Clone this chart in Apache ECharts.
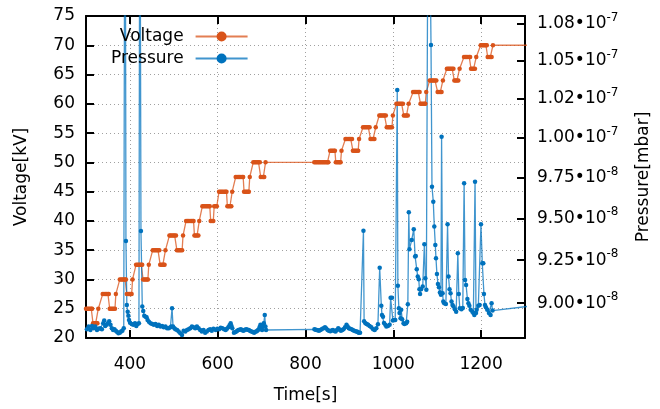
<!DOCTYPE html>
<html>
<head>
<meta charset="utf-8">
<script src="https://cdn.jsdelivr.net/npm/echarts@6/dist/echarts.min.js"></script>
<style>
html,body{margin:0;padding:0;background:#fff;}
#chart{width:660px;height:409px;}
</style>
</head>
<body>
<div id="chart"></div>
<script>
// ---- data ----
// Voltage [kV] vs time [s]
const voltageData = [
[300,25],[303,25],[306,25],[309,25],[312,25],[314,25],
[316,22.5],[319,22.5],[322,22.5],[324,22.5],[326,22.5],
[328,25],
[338,27.5],[341,27.5],[344,27.5],[347,27.5],[350,27.5],[352,27.5],
[354,25],[357,25],[360,25],[363,25],[366,25],
[368,27.5],
[377,30],[380,30],[383,30],[386,30],[389,30],[391,30],
[393,27.5],[396,27.5],[399,27.5],[402,27.5],[404,27.5],
[406,30],
[414,32.5],[417,32.5],[420,32.5],[423,32.5],[426,32.5],[428,32.5],
[430,30],[433,30],[436,30],[439,30],[441,30],
[443,32.5],
[452,35],[455,35],[458,35],[461,35],[464,35],[467,35],
[469,32.5],[472,32.5],[475,32.5],[477,32.5],[479,32.5],
[481,35],
[490,37.5],[493,37.5],[496,37.5],[499,37.5],[502,37.5],[505,37.5],
[507,35],[510,35],[513,35],[516,35],[519,35],
[521,37.5],
[528,40],[531,40],[534,40],[537,40],[540,40],[543,40],[545,40],
[547,37.5],[550,37.5],[553,37.5],[556,37.5],
[558,40],
[565,42.5],[568,42.5],[571,42.5],[574,42.5],[577,42.5],[580,42.5],[582,42.5],
[584,40],[587,40],[590,40],
[592,42.5],[595,42.5],[598,42.5],
[603,45],[606,45],[609,45],[612,45],[615,45],[618,45],[620,45],
[622,42.5],[625,42.5],[628,42.5],[631,42.5],
[633,45],
[641,47.5],[644,47.5],[647,47.5],[650,47.5],[653,47.5],[656,47.5],[658,47.5],
[660,45],[663,45],[666,45],[669,45],[671,45],
[673,47.5],
[681,50],[684,50],[687,50],[690,50],[693,50],[696,50],
[698,47.5],[701,47.5],[704,47.5],[706,47.5],
[709,50],
[820,50],[823,50],[826,50],[829,50],[832,50],[835,50],[838,50],[841,50],[844,50],[847,50],[850,50],[852,50],
[856,52],[859,52],[862,52],[865,52],[867,52],
[869,50],[872,50],[875,50],[878,50],[880,50],
[882,52],
[891,54],[894,54],[897,54],[900,54],[903,54],[906,54],
[908,52],[911,52],[914,52],[917,52],[920,52],
[922,54],
[931,56],[934,56],[937,56],[940,56],[943,56],[946,56],
[948,54],[951,54],[954,54],[957,54],
[960,56],
[968,58],[971,58],[974,58],[977,58],[980,58],[983,58],
[985,56],[988,56],[991,56],[994,56],[997,56],
[999,58],
[1007,60],[1010,60],[1013,60],[1016,60],[1019,60],[1022,60],
[1024,58],[1027,58],[1030,58],[1033,58],
[1035,60],
[1045,62],[1048,62],[1051,62],[1054,62],[1057,62],[1060,62],
[1062,60],[1065,60],[1068,60],[1071,60],[1073,60],
[1075,62],
[1083,64],[1086,64],[1089,64],[1092,64],[1095,64],[1098,64],
[1101,62],[1104,62],[1107,62],[1110,62],
[1113,64],
[1122,66],[1125,66],[1128,66],[1131,66],[1134,66],[1137,66],
[1139,64],[1142,64],[1145,64],[1148,64],
[1151,66],
[1161,68],[1164,68],[1167,68],[1170,68],[1173,68],[1175,68],
[1177,66],[1180,66],[1183,66],[1186,66],
[1189,68],
[1199,70],[1202,70],[1205,70],[1208,70],[1211,70],[1213,70],
[1215,68],[1218,68],[1221,68],[1224,68],
[1227,70],
[1310,70]
];

// Pressure vs time [s]; pressure in units of 1e-8 mbar
const pressureData = [
[302,8.852],[306,8.867],[310,8.848],[313.6,8.871],[317.3,8.858],[321,8.867],[325,8.848],[328.6,8.855],
[332.4,8.858],[336.2,8.852],[339.2,8.886],[341.5,8.901],[343.7,8.871],[346.7,8.877],[349.8,8.886],[352.8,8.897],
[355.8,8.877],[358.8,8.858],[361.8,8.848],[364.8,8.852],[367.9,8.844],[370.9,8.837],[373.9,8.829],[376.9,8.833],
[379.9,8.839],[382.9,8.844],[386,8.858],[389,13.0],[391,9.364],[393,8.99],[395,8.952],[396.5,8.928],[398,8.905],
[400.3,8.889],[404,8.882],[407.8,8.877],[411.6,8.886],[414.6,8.871],[417.6,8.882],[420.6,8.886],[422.7,12.5],
[425.2,9.424],[428.2,8.981],[430.4,8.956],[432.7,8.928],[435.7,8.923],[438,8.920],[440.2,8.905],[443.3,8.895],
[447,8.886],[450.8,8.882],[454.6,8.877],[458.3,8.882],[462.1,8.871],[465.9,8.877],[469.7,8.867],[473.4,8.871],
[477.2,8.864],[481,8.867],[484.7,8.858],[488.5,8.858],[492.3,8.864],[494.5,8.867],[496,8.971],[498.3,8.867],
[501.3,8.858],[503.6,8.852],[507.4,8.848],[511.1,8.839],[514.9,8.829],[518.7,8.820],[522.4,8.844],[526.2,8.839],
[530,8.848],[533.7,8.852],[537.5,8.858],[541.3,8.867],[545,8.864],[548.8,8.858],[552.6,8.867],[556.4,8.858],
[560.1,8.848],[563.9,8.839],[567.7,8.848],[571.4,8.833],[575.2,8.839],[579,8.848],[582.8,8.852],[586.5,8.844],
[590.3,8.855],[595.6,8.848],[599,8.855],[603.1,8.852],[606.8,8.86],[610.7,8.858],[614.5,8.852],[618.2,8.848],
[621,8.855],[624.2,8.864],[627,8.875],[629.5,8.886],[631.5,8.87],[633.3,8.858],[637,8.833],[640.8,8.837],
[643.9,8.842],[646.9,8.848],[649.9,8.85],[652.9,8.852],[655.9,8.846],[658.9,8.844],[662,8.85],[665,8.852],
[668,8.849],[671,8.848],[674,8.843],[677,8.839],[680,8.836],[683,8.833],[686,8.838],[689,8.841],[691.3,8.846],
[693.6,8.852],[695.5,8.865],[697.4,8.877],[699.3,8.862],[701.1,8.848],[703,8.866],[704.9,8.886],[707.2,8.933],
[708.7,8.867],[710.2,8.848],
[820.3,8.852],[823,8.85],[825.6,8.848],[828.2,8.846],[830.8,8.844],[833.8,8.848],[836.9,8.852],[840.6,8.858],
[844.4,8.864],[847.4,8.856],[850.4,8.848],[853.4,8.844],[856.5,8.841],[859.5,8.845],[862.5,8.848],[865.5,8.843],
[868.5,8.839],[871.5,8.848],[874.6,8.858],[877.6,8.851],[880.6,8.844],[883.6,8.848],[886.6,8.852],[890,8.864],
[893.4,8.877],[896,8.867],[898.7,8.858],[901.7,8.855],[904.7,8.852],[907.7,8.848],[910.8,8.844],[913.8,8.841],
[916.8,8.839],[919,8.836],[921.3,8.833],[924.3,8.833],[932,9.425],[933.5,8.898],[936.5,8.886],[939.5,8.882],
[942.5,8.877],[946,8.871],[950,8.864],[954,8.852],[957.6,8.848],[961.3,8.858],[965,8.88],[969,9.206],
[972.7,8.985],[974.2,8.933],[976.5,8.923],[978.8,8.888],[981.8,8.877],[984.1,8.867],[987.8,8.871],[991.6,8.877],
[993.9,9.031],[996.9,9.031],[999.1,8.901],[1001.4,8.905],[1004.4,8.905],[1009,10.308],[1010.4,9.101],[1012.7,8.971],
[1014.2,8.944],[1016.5,8.915],[1018,8.962],[1020.2,8.909],[1023.3,8.886],[1025.5,8.882],[1029.3,8.886],[1031.6,8.895],
[1033.1,8.994],[1035.3,9.537],[1036.8,9.315],[1042,9.37],[1046.6,9.434],[1049.7,9.271],[1051.2,9.275],[1053.4,9.197],
[1055.7,9.154],[1058,9.139],[1059.5,9.081],[1061,9.053],[1063.2,9.081],[1067,9.096],[1070.8,9.344],[1073,9.144],
[1075.3,9.077],[1080,12.5],[1085.9,10.607],[1088.1,9.693],[1091.1,9.601],[1093.4,9.45],[1095.7,9.34],[1097.2,9.261],
[1099.4,9.169],[1101.7,9.111],[1104,9.092],[1106.2,9.061],[1108.5,9.048],[1110,10.006],[1112.3,9.057],[1113.8,9.01],
[1116,9.0],[1119.8,8.996],[1123.6,9.464],[1125.8,9.154],[1128.1,9.081],[1130.4,9.057],[1132.6,9.01],[1134.9,8.99],
[1137.1,8.981],[1140.2,8.966],[1143.2,8.952],[1147,9.291],[1149.2,9.053],[1151.5,8.971],[1155.2,8.966],[1158.3,8.973],
[1161.3,9.714],[1163.5,9.134],[1165.8,9.105],[1168.8,9.024],[1171.1,9.0],[1173.3,8.985],[1176.3,8.962],[1180.1,8.952],
[1182.4,8.944],[1184.6,8.933],[1186.2,9.724],[1188.4,8.944],[1189.9,8.962],[1193.7,8.985],[1196.7,8.99],[1199.7,9.464],
[1202.7,9.232],[1205,9.232],[1206.5,9.053],[1208.8,8.99],[1211,8.977],[1214,8.962],[1217.8,8.944],[1221.6,8.933],
[1223.9,9.0],[1226.1,8.958],[1310,8.983]
];

const timeTicks = [400, 600, 800, 1000, 1200];
const pressureTickValues = [9, 9.25, 9.5, 9.75, 10, 10.25, 10.5, 10.75]; // 1e-8 mbar
const pressureTickMantissa = ['9.00', '9.25', '9.50', '9.75', '1.00', '1.02', '1.05', '1.08'];
const pressureTickExponent = ['-8', '-8', '-8', '-8', '-7', '-7', '-7', '-7'];

// ---- chart ----
const FONT = 'DejaVu Sans';
const BLACK = '#000000';
const ORANGE = '#D95319';
const BLUE = '#0072BD';
const gridLine = { show: true, lineStyle: { color: '#a0a0a0', type: [1, 3], width: 1 } };

const chart = echarts.init(document.getElementById('chart'), null, { renderer: 'canvas' });
chart.setOption({
  animation: false,
  backgroundColor: '#ffffff',
  grid: { left: 86, right: 132, top: 16, bottom: 71, containLabel: false },
  legend: {
    orient: 'vertical', align: 'right', left: 111, top: 28, padding: 0,
    itemWidth: 52, itemHeight: 12.5, itemGap: 5,
    textStyle: { fontSize: 17, fontFamily: FONT, color: BLACK, padding: [0, 7, 0, 0] },
    data: ['Voltage', 'Pressure']
  },
  xAxis: [
    {
      type: 'value', min: 300, max: 1300, position: 'bottom',
      name: 'Time[s]', nameLocation: 'middle', nameGap: 49,
      nameTextStyle: { fontSize: 17, fontFamily: FONT, color: BLACK },
      axisLine: { show: true, onZero: false, lineStyle: { color: BLACK, width: 2 } },
      axisTick: { show: true, inside: true, length: 8, customValues: timeTicks, lineStyle: { color: BLACK, width: 2 } },
      axisLabel: { customValues: timeTicks, fontSize: 17, fontFamily: FONT, color: BLACK, margin: 18,
        formatter: function (v) { return String(v); } },
      splitLine: gridLine
    },
    {
      type: 'value', min: 300, max: 1300, position: 'top',
      axisLine: { show: true, onZero: false, lineStyle: { color: BLACK, width: 2 } },
      axisTick: { show: true, inside: true, length: 8, customValues: timeTicks, lineStyle: { color: BLACK, width: 2 } },
      axisLabel: { show: false },
      splitLine: { show: false }
    }
  ],
  yAxis: [
    {
      type: 'value', min: 20, max: 75, interval: 5, position: 'left',
      name: 'Voltage[kV]', nameLocation: 'middle', nameGap: 56, nameRotate: 90,
      nameTextStyle: { fontSize: 17, fontFamily: FONT, color: BLACK },
      axisLine: { show: true, onZero: false, lineStyle: { color: BLACK, width: 2 } },
      axisTick: { show: true, inside: true, length: 8, lineStyle: { color: BLACK, width: 2 } },
      axisLabel: { fontSize: 17, fontFamily: FONT, color: BLACK, margin: 11 },
      splitLine: gridLine
    },
    {
      type: 'log', logBase: 10, min: 8.803, max: 10.805, position: 'right',
      name: 'Pressure[mbar]', nameLocation: 'middle', nameGap: 110, nameRotate: 90,
      nameTextStyle: { fontSize: 17, fontFamily: FONT, color: BLACK },
      axisLine: { show: true, onZero: false, lineStyle: { color: BLACK, width: 2 } },
      axisTick: { show: true, inside: true, length: 8, customValues: pressureTickValues, lineStyle: { color: BLACK, width: 2 } },
      axisLabel: {
        customValues: pressureTickValues, margin: 12,
        formatter: function (v) {
          let best = 0, bd = Infinity;
          pressureTickValues.forEach(function (t, i) { const d = Math.abs(t - v); if (d < bd) { bd = d; best = i; } });
          return '{m|' + pressureTickMantissa[best] + '\u202210}{e|' + pressureTickExponent[best] + '}';
        },
        rich: {
          m: { fontSize: 17, fontFamily: FONT, color: BLACK },
          e: { fontSize: 12, fontFamily: FONT, color: BLACK, padding: [0, 0, 12, 0] }
        }
      },
      splitLine: { show: false }
    }
  ],
  series: [
    {
      name: 'Voltage', type: 'line', xAxisIndex: 0, yAxisIndex: 0, data: voltageData,
      symbol: 'circle', symbolSize: 4.5, clip: true,
      lineStyle: { color: ORANGE, width: 1.3, opacity: 0.75 }, itemStyle: { color: ORANGE }
    },
    {
      name: 'Pressure', type: 'line', xAxisIndex: 0, yAxisIndex: 1, data: pressureData,
      symbol: 'circle', symbolSize: 4.5, clip: true,
      lineStyle: { color: BLUE, width: 1.3, opacity: 0.75 }, itemStyle: { color: BLUE }
    }
  ]
});
</script>
</body>
</html>
